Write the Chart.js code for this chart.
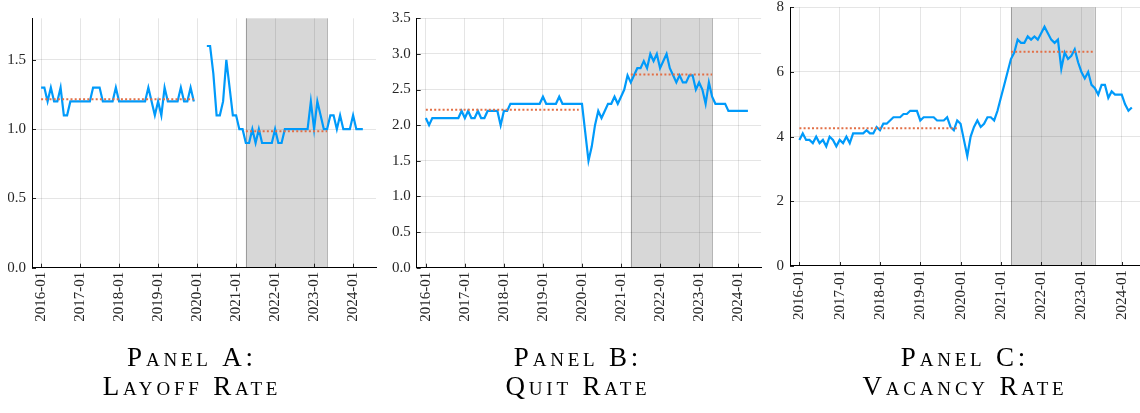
<!DOCTYPE html>
<html><head><meta charset="utf-8">
<script src="https://cdn.jsdelivr.net/npm/chart.js@4.4.1/dist/chart.umd.min.js"></script>
<style>
html,body{margin:0;padding:0;background:#fff;overflow:hidden;width:1140px;height:413px;position:relative;}
canvas{position:absolute;top:0;}
</style></head><body>
<canvas id="cA" width="380" height="413" style="left:0px"></canvas>
<canvas id="cB" width="382" height="413" style="left:380px"></canvas>
<canvas id="cC" width="386" height="413" style="left:760px"></canvas>
<script>
// ---- categories (monthly, 2016-01 .. 2024-04) ----
const months = [];
for (let y = 2016; y <= 2024; y++) {
  for (let m = 1; m <= 12; m++) {
    if (y === 2024 && m > 4) break;
    months.push(y + '-' + String(m).padStart(2, '0'));
  }
}
const xTickLabels = ['2016-01','2017-01','2018-01','2019-01','2020-01','2021-01','2022-01','2023-01','2024-01'];

// ---- series values ----
const layoffRate = [
  1.3,1.3,1.2,1.3,1.2,1.2,1.3,1.1,1.1,1.2,
  1.2,1.2,1.2,1.2,1.2,1.2,1.3,1.3,1.3,1.2,
  1.2,1.2,1.2,1.3,1.2,1.2,1.2,1.2,1.2,1.2,
  1.2,1.2,1.2,1.3,1.2,1.1,1.2,1.1,1.3,1.2,
  1.2,1.2,1.2,1.3,1.2,1.2,1.3,1.2,null,null,
  null,1.6,1.6,1.4,1.1,1.1,1.2,1.5,1.3,1.1,
  1.1,1.0,1.0,0.9,0.9,1.0,0.9,1.0,0.9,0.9,
  0.9,0.9,1.0,0.9,0.9,1.0,1.0,1.0,1.0,1.0,
  1.0,1.0,1.0,1.2,1.0,1.2,1.1,1.0,1.0,1.1,
  1.1,1.0,1.1,1.0,1.0,1.0,1.1,1.0,1.0,1.0
];
const quitRate = [
  2.1,2.0,2.1,2.1,2.1,2.1,2.1,2.1,2.1,2.1,
  2.1,2.2,2.1,2.2,2.1,2.1,2.2,2.1,2.1,2.2,
  2.2,2.2,2.2,2.0,2.2,2.2,2.3,2.3,2.3,2.3,
  2.3,2.3,2.3,2.3,2.3,2.3,2.4,2.3,2.3,2.3,
  2.3,2.4,2.3,2.3,2.3,2.3,2.3,2.3,2.3,1.9,
  1.5,1.7,2.0,2.2,2.1,2.2,2.3,2.3,2.4,2.3,
  2.4,2.5,2.7,2.6,2.7,2.8,2.8,2.9,2.8,3.0,
  2.9,3.0,2.8,2.9,3.0,2.8,2.7,2.6,2.7,2.6,
  2.6,2.7,2.7,2.5,2.6,2.5,2.3,2.6,2.4,2.3,
  2.3,2.3,2.3,2.2,2.2,2.2,2.2,2.2,2.2,2.2
];
const vacancyRate = [
  3.9,4.1,3.9,3.9,3.8,4.0,3.8,3.9,3.7,4.0,
  3.9,3.7,3.9,3.8,4.0,3.8,4.1,4.1,4.1,4.1,
  4.2,4.1,4.1,4.3,4.2,4.4,4.4,4.5,4.6,4.6,
  4.6,4.7,4.7,4.8,4.8,4.8,4.5,4.6,4.6,4.6,
  4.6,4.5,4.5,4.5,4.6,4.3,4.2,4.5,4.4,3.9,
  3.4,4.0,4.3,4.5,4.3,4.4,4.6,4.6,4.5,4.8,
  5.2,5.6,6.0,6.4,6.6,7.0,6.9,6.9,7.1,7.0,
  7.1,7.0,7.2,7.4,7.2,7.0,6.9,7.0,6.1,6.6,
  6.4,6.5,6.7,6.3,6.0,5.8,6.0,5.6,5.5,5.3,
  5.6,5.6,5.2,5.4,5.3,5.3,5.3,5.0,4.8,4.9
];

// period averages
const preMeans  = [1.216, 2.215, 4.256];
const postMeans = [0.985, 2.712, 6.623];
const prePeriod  = ['2016-01', '2019-12'];
const postPeriod = ['2021-04', '2023-05'];
const shadePeriod = ['2021-04', '2023-05'];

// y ticks
const yTicksA = [0, 0.5, 1.0, 1.5];
const yTickLabelsA = ['0.0','0.5','1.0','1.5'];
const yTicksB = [0, 0.5, 1.0, 1.5, 2.0, 2.5, 3.0, 3.5];
const yTickLabelsB = ['0.0','0.5','1.0','1.5','2.0','2.5','3.0','3.5'];
const yTicksC = [0, 2, 4, 6, 8];
const yTickLabelsC = ['0','2','4','6','8'];

const titleA = ['Panel A:', 'Layoff Rate'];
const titleB = ['Panel B:', 'Quit Rate'];
const titleC = ['Panel C:', 'Vacancy Rate'];

// ---- plugins ----
const shadePlugin = {
  id: 'shade',
  beforeDatasetsDraw(chart, args, opts) {
    const {ctx, chartArea: a, scales: {x}} = chart;
    const x0 = x.getPixelForValue(months.indexOf(opts.from));
    const x1 = x.getPixelForValue(months.indexOf(opts.to));
    ctx.save();
    ctx.fillStyle = 'rgba(0,0,0,0.155)';
    ctx.fillRect(x0, a.top, x1 - x0, a.bottom - a.top - 0.5);
    ctx.strokeStyle = 'rgba(0,0,0,0.28)';
    ctx.lineWidth = 1;
    ctx.beginPath();
    [x0, x1].forEach(px => { const p = Math.round(px) + 0.5; ctx.moveTo(p, a.top); ctx.lineTo(p, a.bottom); });
    ctx.stroke();
    ctx.restore();
  }
};
// short inward tick marks on both axes, at the scales' tick positions
const innerTicks = {
  id: 'innerTicks',
  afterDatasetsDraw(chart) {
    const {ctx, chartArea: a, scales: {x, y}} = chart;
    ctx.save();
    ctx.strokeStyle = 'rgba(0,0,0,0.85)';
    ctx.lineWidth = 1;
    ctx.beginPath();
    x.ticks.forEach(t => { const p = Math.round(x.getPixelForValue(t.value)) + 0.5; ctx.moveTo(p, a.bottom); ctx.lineTo(p, a.bottom - 4); });
    y.ticks.forEach(t => { const p = Math.round(y.getPixelForValue(t.value)) + 0.5; ctx.moveTo(a.left, p); ctx.lineTo(a.left + 4, p); });
    ctx.stroke();
    ctx.restore();
  }
};
const titleTweak = {
  id: 'titleTweak',
  beforeDraw(chart, args, opts) {
    const tb = chart.titleBlock;
    if (tb && !tb._tweaked) {
      const orig = tb.draw.bind(tb);
      tb.draw = function (area) {
        const ctx = chart.ctx;
        ctx.save();
        ctx.translate(opts.dx || 0, 0);
        ctx.letterSpacing = (opts.spacing || 0) + 'px';
        orig(area);
        ctx.restore();
      };
      tb._tweaked = true;
    }
  }
};

const TICK_FONT = {family: "'Liberation Serif', 'DejaVu Serif', serif", size: 15, lineHeight: 0.9};
const TICK_COLOR = '#262626';
const GRID_COLOR = 'rgba(0,0,0,0.1)';

function makePanel(id, series, idx, title, yMax, yTicks, yLabels, lay) {
  const pts = series.map((v, i) => ({x: i, y: v}));
  const meanLine = (p, m) => [{x: months.indexOf(p[0]), y: m}, {x: months.indexOf(p[1]), y: m}];
  const xTickPos = xTickLabels.map(l => months.indexOf(l));
  return new Chart(document.getElementById(id), {
    type: 'line',
    data: {
      datasets: [
        {data: meanLine(prePeriod, preMeans[idx]), borderColor: '#E26F46', borderWidth: 2, borderDash: [2, 2.2], pointRadius: 0, fill: false},
        {data: meanLine(postPeriod, postMeans[idx]), borderColor: '#E26F46', borderWidth: 2, borderDash: [2, 2.2], pointRadius: 0, fill: false},
        {data: pts, borderColor: '#009AFA', borderWidth: 2.2, pointRadius: 0, spanGaps: false, tension: 0, fill: false, borderJoinStyle: 'miter'}
      ]
    },
    options: {
      responsive: false,
      animation: false,
      events: [],
      layout: {padding: {left: lay.padL, right: lay.padR, top: lay.padT, bottom: 0}},
      scales: {
        x: {
          type: 'linear', min: -2.8, max: 103.05,
          afterBuildTicks: s => { s.ticks = xTickPos.map(v => ({value: v})); },
          afterFit: s => { s.height = lay.xH; },
          ticks: {
            autoSkip: false, minRotation: 90, maxRotation: 90, padding: 4,
            font: TICK_FONT, color: TICK_COLOR,
            callback: (v, i) => xTickLabels[i]
          },
          grid: {color: GRID_COLOR, lineWidth: 1, drawTicks: false},
          border: {display: true, color: '#000', width: 1}
        },
        y: {
          type: 'linear', min: 0, max: yMax,
          afterBuildTicks: s => { s.ticks = yTicks.map(v => ({value: v})); },
          afterFit: s => { s.width = lay.yW; },
          ticks: {
            padding: 0, font: TICK_FONT, color: TICK_COLOR,
            callback: (v, i) => yLabels[i]
          },
          grid: {color: GRID_COLOR, lineWidth: 1, drawTicks: true, tickLength: 6, tickColor: 'rgba(0,0,0,0)'},
          border: {display: true, color: '#000', width: 1}
        }
      },
      plugins: {
        legend: {display: false},
        tooltip: {enabled: false},
        shade: {from: shadePeriod[0], to: shadePeriod[1]},
        titleTweak: {spacing: 3.8, dx: lay.dx},
        title: {
          display: true, position: 'bottom', text: title, color: '#000',
          font: {family: "'Liberation Serif', 'DejaVu Serif', serif", size: 27, weight: 'small-caps 400', lineHeight: 1.063},
          padding: {top: 0, bottom: 11}
        }
      }
    },
    plugins: [shadePlugin, innerTicks, titleTweak]
  });
}

makePanel('cA', layoffRate, 0, titleA, 1.8, yTicksA, yTickLabelsA, {padL: 8, padR: 4, padT: 18.3, yW: 24, xH: 76.9, dx: 0});
makePanel('cB', quitRate, 1, titleB, 3.5, yTicksB, yTickLabelsB, {padL: 6.7, padR: 0.9, padT: 18.3, yW: 30, xH: 76.9, dx: 4.1});
makePanel('cC', vacancyRate, 2, titleC, 8, yTicksC, yTickLabelsC, {padL: 10, padR: 0.6, padT: 7.3, yW: 20, xH: 78.6, dx: 7.3});
</script>
</body></html>
